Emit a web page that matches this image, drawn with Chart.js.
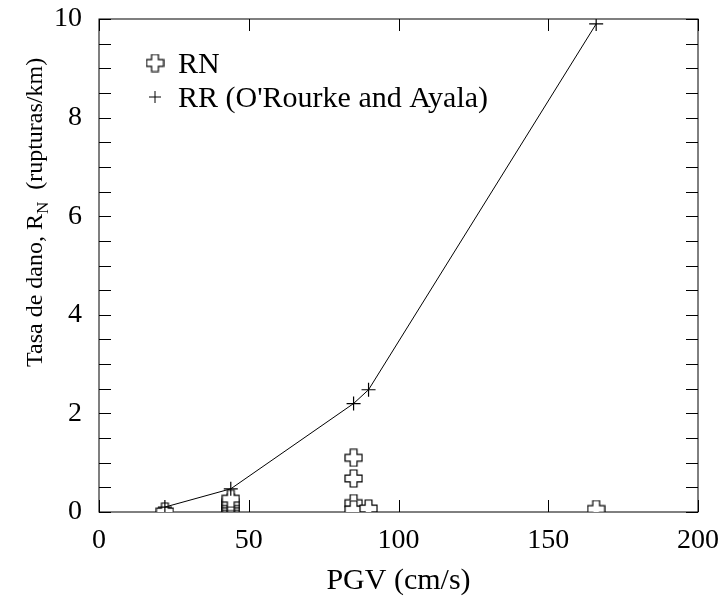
<!DOCTYPE html>
<html>
<head>
<meta charset="utf-8">
<script src="https://cdn.jsdelivr.net/npm/chart.js@4.4.1/dist/chart.umd.min.js"></script>
<style>
	body { margin: 0; background: #fff; }
	#wrap { width: 722px; height: 599px; }
</style>
</head>
<body>
<div id="wrap"><canvas id="myChart" width="722" height="599"></canvas></div>
<script>
// data
const pgvRN = [22, 44, 44, 44, 44, 44, 44, 85, 85, 85, 85, 90, 166];
const rateRN = [0.01, 0.02, 0.06, 0.1, 0.15, 0.2, 0.27, 1.1, 0.68, 0.18, 0.05, 0.07, 0.06];
const pgvRR = [22, 44, 85, 90, 166];
const rateRR = [0.1, 0.47, 2.2, 2.48, 9.9];
const xTicks = [0, 50, 100, 150, 200];
const yTicks = [0, 2, 4, 6, 8, 10];
const yMinor = [0.5, 1, 1.5, 2.5, 3, 3.5, 4.5, 5, 5.5, 6.5, 7, 7.5, 8.5, 9, 9.5];
const labelRN = 'RN';
const labelRR = "RR (O'Rourke and Ayala)";

const serif = "'Liberation Serif', 'Times New Roman', serif";

// hollow cross marker
function hollowCross(size) {
	const c = document.createElement('canvas');
	c.width = size;
	c.height = size;
	const g = c.getContext('2d');
	const m = size / 2, a = 3.4, l = size / 2 - 1;
	g.beginPath();
	g.moveTo(m - a, m - l);
	g.lineTo(m + a, m - l);
	g.lineTo(m + a, m - a);
	g.lineTo(m + l, m - a);
	g.lineTo(m + l, m + a);
	g.lineTo(m + a, m + a);
	g.lineTo(m + a, m + l);
	g.lineTo(m - a, m + l);
	g.lineTo(m - a, m + a);
	g.lineTo(m - l, m + a);
	g.lineTo(m - l, m - a);
	g.lineTo(m - a, m - a);
	g.closePath();
	g.fillStyle = '#fff';
	g.fill();
	g.lineWidth = 1.2;
	g.strokeStyle = '#000';
	g.stroke();
	return c;
}
const crossImg = hollowCross(19);

function plusMark(ctx, x, y, r) {
	ctx.beginPath();
	ctx.moveTo(x - r, y);
	ctx.lineTo(x + r, y);
	ctx.moveTo(x, y - r);
	ctx.lineTo(x, y + r);
	ctx.stroke();
}

// frame, inward ticks, y title, legend
const frame = {
	id: 'frame',
	beforeDatasetsDraw(chart) {
		const ctx = chart.ctx;
		const a = chart.chartArea;
		const xs = chart.scales.x, ys = chart.scales.y;
		const len = 12;
		ctx.save();
		ctx.strokeStyle = '#000';
		ctx.lineWidth = 1;
		ctx.strokeRect(a.left, a.top, a.right - a.left, a.bottom - a.top);
		ctx.beginPath();
		xTicks.forEach((v) => {
			const px = Math.round(xs.getPixelForValue(v)) + 0.5;
			ctx.moveTo(px, a.bottom);
			ctx.lineTo(px, a.bottom - len);
			ctx.moveTo(px, a.top);
			ctx.lineTo(px, a.top + len);
		});
		yTicks.concat(yMinor).forEach((v) => {
			const py = Math.round(ys.getPixelForValue(v)) + 0.5;
			ctx.moveTo(a.left, py);
			ctx.lineTo(a.left + len, py);
			ctx.moveTo(a.right, py);
			ctx.lineTo(a.right - len, py);
		});
		ctx.stroke();
		ctx.restore();
	},
	afterDraw(chart) {
		const ctx = chart.ctx;
		ctx.save();
		ctx.fillStyle = '#000';
		ctx.strokeStyle = '#000';
		// y axis title with subscript
		ctx.translate(42, 367);
		ctx.rotate(-Math.PI / 2);
		ctx.textBaseline = 'alphabetic';
		ctx.textAlign = 'left';
		ctx.font = '24px ' + serif;
		let t1 = 'Tasa de dano, R';
		ctx.fillText(t1, 0, 0);
		let w = ctx.measureText(t1).width;
		ctx.font = '17px ' + serif;
		ctx.fillText('N', w, 6);
		w += ctx.measureText('N').width;
		ctx.font = '24px ' + serif;
		ctx.fillText('  (rupturas/km)', w, 0);
		ctx.restore();

		// legend
		ctx.save();
		ctx.font = '30px ' + serif;
		ctx.fillStyle = '#000';
		ctx.textBaseline = 'alphabetic';
		ctx.drawImage(crossImg, 155 - 9.5, 63 - 9.5);
		ctx.fillText(labelRN, 178, 73);
		ctx.lineWidth = 1;
		plusMark(ctx, 155, 97, 6);
		ctx.fillText(labelRR, 178, 107);
		ctx.restore();
	},
};

const ctx = document.getElementById('myChart').getContext('2d');

const chart = new Chart(ctx, {
	type: 'scatter',
	data: {
		datasets: [
			{
				label: labelRR,
				data: pgvRR.map((x, i) => ({ x: x, y: rateRR[i] })),
				showLine: true,
				borderColor: '#000',
				borderWidth: 1,
				backgroundColor: '#000',
				pointStyle: 'cross',
				pointRadius: 7,
				pointBorderWidth: 1.2,
				pointBorderColor: '#000',
			},
			{
				label: labelRN,
				data: pgvRN.map((x, i) => ({ x: x, y: rateRN[i] })),
				showLine: false,
				pointStyle: crossImg,
			},
		],
	},
	options: {
		responsive: false,
		animation: false,
		events: [],
		layout: {
			padding: { left: 0, right: 24, top: 19, bottom: 0 },
		},
		plugins: {
			legend: { display: false },
			tooltip: { enabled: false },
		},
		scales: {
			x: {
				type: 'linear',
				min: 0,
				max: 200,
				grid: { display: false, drawTicks: false },
				border: { display: false },
				ticks: {
					stepSize: 50,
					padding: 12,
					color: '#000',
					font: { family: serif, size: 28 },
				},
				title: {
					display: true,
					text: 'PGV (cm/s)',
					color: '#000',
					font: { family: serif, size: 30 },
					padding: { top: 0, bottom: 0 },
				},
				afterFit(scale) {
					scale.height = 87;
					scale.paddingLeft = 0;
					scale.paddingRight = 0;
				},
			},
			y: {
				type: 'linear',
				min: 0,
				max: 10,
				grid: { display: false, drawTicks: false },
				border: { display: false },
				ticks: {
					stepSize: 2,
					padding: 17,
					color: '#000',
					font: { family: serif, size: 28 },
				},
				afterFit(scale) {
					scale.width = 99;
					scale.paddingTop = 0;
					scale.paddingBottom = 0;
				},
			},
		},
	},
	plugins: [frame],
});
</script>
</body>
</html>
